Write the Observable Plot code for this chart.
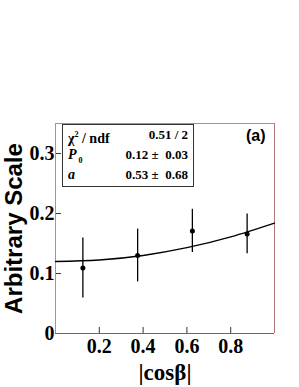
<!DOCTYPE html>
<html><head><meta charset="utf-8">
<script src="https://cdn.jsdelivr.net/npm/d3@7"></script>
<script src="https://cdn.jsdelivr.net/npm/@observablehq/plot@0.6"></script>
<style>
body{margin:0;background:#fff;}
#wrap{position:relative;width:299px;height:387px;}
#stats{position:absolute;left:62px;top:124px;width:130px;height:61px;border:1px solid #333;background:#fff;
 font-family:"Liberation Serif","Times New Roman",serif;font-weight:bold;font-size:13px;color:#000;}
#stats .row{position:absolute;left:5px;right:5px;height:20px;line-height:20px;color:#000;}
#stats .k{position:absolute;left:0;font-size:14px;white-space:pre;color:#000;}
#stats .v{position:absolute;right:0;white-space:pre;color:#000;}
#stats sup,#stats sub{font-size:8px;color:#000;}
</style></head>
<body><div id="wrap"></div>
<script>
const xs = [0.125, 0.375, 0.625, 0.875];
const ys = [0.109, 0.130, 0.171, 0.166];
const errs = [0.050, 0.044, 0.036, 0.033];
const fitX = [0, 0.2, 0.4, 0.6, 0.8, 1.0];
const fitY = [0.120, 0.1225, 0.130, 0.143, 0.161, 0.184];
const yTicks = [0, 0.1, 0.2, 0.3];
const xTicks = [0.2, 0.4, 0.6, 0.8];
const statKeys = ["χ<sup>2</sup> / ndf", "<i>P</i><sub> 0</sub>", "<i>a</i>"];
const statVals = ["0.51 / 2", "0.12 ±  0.03", "0.53 ±  0.68"];
const xLabel = "|cosβ|";
const yLabel = "Arbitrary Scale";
const panel = "(a)";

const pts = xs.map((x,i)=>({x, y: ys[i], lo: ys[i]-errs[i], hi: ys[i]+errs[i]}));
const fit = fitX.map((x,i)=>({x, y: fitY[i]}));
const serif = "Liberation Serif, Times New Roman, serif";
const sans = "Liberation Sans, Arial, sans-serif";

const chart = Plot.plot({
  width: 299, height: 387,
  marginLeft: 55, marginRight: 25, marginTop: 123, marginBottom: 54,
  style: {background: "white", overflow: "visible"},
  x: {domain: [0, 1]},
  y: {domain: [0, 0.35]},
  marks: [
    Plot.axisY(yTicks, {tickSize: 0, tickPadding: 1, fontSize: 20, fontWeight: "bold", fontFamily: serif, fill: "black", tickFormat: d => d === 0 ? "0" : d.toFixed(1), label: null}),
    Plot.axisX(xTicks, {tickSize: 0, tickPadding: 5, fontSize: 20, fontWeight: "bold", fontFamily: serif, fill: "black", tickFormat: d => d.toFixed(1), label: null}),
    Plot.ruleY(yTicks.slice(1), {x1: 0, x2: 0.027, stroke: "#333"}),
    Plot.ruleX(xTicks, {y1: 0, y2: 0.01, stroke: "#333"}),
    Plot.ruleX([0], {stroke: "#999"}),
    Plot.ruleY([0.35], {stroke: "#999"}),
    Plot.ruleX([1], {stroke: "#b07878"}),
    Plot.ruleY([0], {stroke: "#8a5a5a"}),
    Plot.line(fit, {x: "x", y: "y", curve: "natural", stroke: "black", strokeWidth: 1.3}),
    Plot.ruleX(pts, {x: "x", y1: "lo", y2: "hi", stroke: "black", strokeWidth: 1.3}),
    Plot.dot(pts, {x: "x", y: "y", r: 2.5, fill: "black", stroke: null}),
    Plot.text([panel], {frameAnchor: "top-right", dx: -9, dy: 6, lineAnchor: "top", textAnchor: "end", fontSize: 16, fontWeight: "bold", fontFamily: sans, fill: "black"}),
    Plot.text([xLabel], {frameAnchor: "bottom", dy: 46, lineAnchor: "bottom", fontSize: 23, fontWeight: "bold", fontFamily: serif, fill: "black"}),
    Plot.text([yLabel], {frameAnchor: "left", dx: -41, dy: 0, rotate: -90, textAnchor: "middle", lineAnchor: "middle", fontSize: 24, fontWeight: "bold", fontFamily: sans, fill: "black"})
  ]
});
const wrap = document.getElementById("wrap");
wrap.appendChild(chart);
const box = document.createElement("div");
box.id = "stats";
statKeys.forEach((k,i)=>{
  const r = document.createElement("div");
  r.className = "row"; r.style.top = (i*20) + "px";
  r.innerHTML = `<span class="k">${k}</span><span class="v">${statVals[i]}</span>`;
  box.appendChild(r);
});
wrap.appendChild(box);
</script></body></html>
